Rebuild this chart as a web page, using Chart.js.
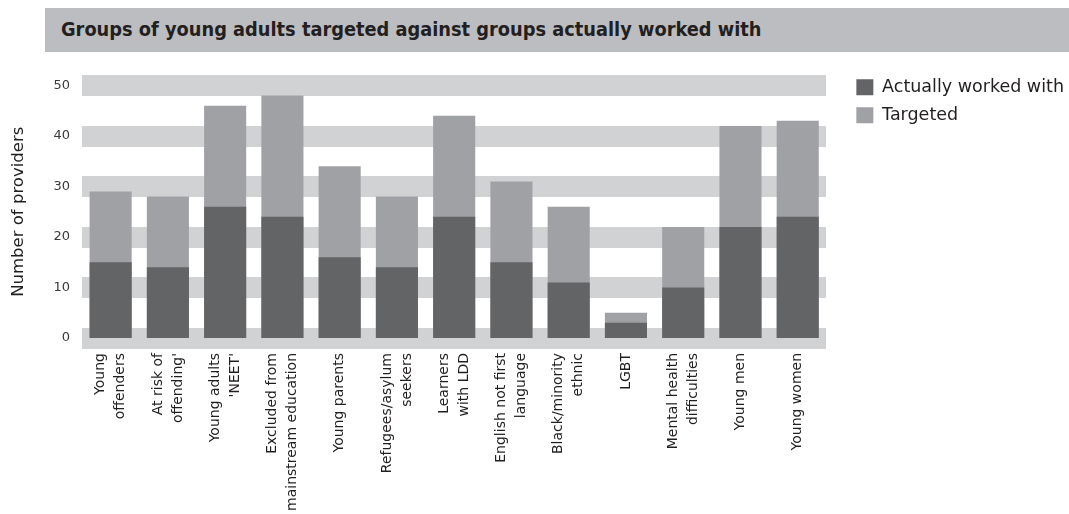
<!DOCTYPE html>
<html>
<head>
<meta charset="utf-8">
<script src="https://cdn.jsdelivr.net/npm/chart.js@4/dist/chart.umd.min.js"></script>
<style>
  html, body { margin: 0; padding: 0; background: #ffffff; }
  #wrap { position: relative; width: 1069px; height: 514px; overflow: hidden; }
  #title {
    position: absolute; left: 45px; top: 8px; width: 1024px; height: 44px;
    background: #bcbdc0; color: #231f20;
    font-family: "DejaVu Sans Condensed", "DejaVu Sans", sans-serif; font-stretch: condensed;
    font-weight: bold; font-size: 19.8px; line-height: 44px;
    padding-left: 16px; box-sizing: border-box; white-space: nowrap;
  }
  canvas { position: absolute; left: 0; top: 0; }
</style>
</head>
<body>
<div id="wrap">
  <canvas id="c" width="1069" height="514"></canvas>
  <div id="title">Groups of young adults targeted against groups actually worked with</div>
</div>
<script>
const categories = [
  ["Young", "offenders"],
  ["At risk of", "offending'"],
  ["Young adults", "'NEET'"],
  ["Excluded from", "mainstream education"],
  "Young parents",
  ["Refugees/asylum", "seekers"],
  ["Learners", "with LDD"],
  ["English not first", "language"],
  ["Black/minority", "ethnic"],
  "LGBT",
  ["Mental health", "difficulties"],
  "Young men",
  "Young women"
];
const actuallyWorkedWith = [15, 14, 26, 24, 16, 14, 24, 15, 11, 3, 10, 22, 24];
const targeted = [29, 28, 46, 48, 34, 28, 44, 31, 26, 5, 22, 42, 43];
const seriesNames = ["Actually worked with", "Targeted"];
const yAxisTitle = "Number of providers";
const yMin = 0, yMax = 50, yStep = 10;

const FONT = "'DejaVu Sans', sans-serif";
const TEXT = "#231f20";
const DARK = "#636466";
const LIGHT = "#a0a1a5";
const BAND = "#d1d2d4";
const LINE_GAP = 20; // spacing between label lines (px)

new Chart(document.getElementById("c"), {
  type: "bar",
  data: {
    labels: categories,
    datasets: [
      { label: seriesNames[0], data: actuallyWorkedWith, backgroundColor: DARK, borderWidth: 0, grouped: false },
      { label: seriesNames[1], data: targeted, backgroundColor: LIGHT, borderWidth: 0, grouped: false }
    ]
  },
  options: {
    responsive: false,
    animation: false,
    events: [],
    barPercentage: 0.735,
    categoryPercentage: 1,
    layout: { padding: { top: 68, right: -5, bottom: 0, left: 0 } },
    plugins: {
      title: { display: false },
      tooltip: { enabled: false },
      legend: {
        position: "right",
        align: "start",
        maxWidth: 240,
        labels: {
          boxWidth: 17, boxHeight: 16, padding: 10.5,
          color: TEXT,
          font: { family: FONT, size: 17.5 }
        }
      }
    },
    scales: {
      x: {
        grid: { display: false, drawTicks: false },
        border: { display: false },
        afterFit: (s) => { s.height = 176; },
        ticks: {
          autoSkip: false,
          minRotation: 90,
          maxRotation: 90,
          padding: 15,
          labelOffset: -LINE_GAP / 2,
          color: TEXT,
          callback: (v, i) => Array.isArray(categories[i]) ? categories[i] : ["", categories[i]],
          font: (ctx) => {
            const single = !Array.isArray(categories[ctx.index]);
            return { family: FONT, size: 14, lineHeight: (single ? LINE_GAP / 2 : LINE_GAP) / 14 };
          }
        }
      },
      y: {
        min: yMin, max: yMax,
        afterFit: (s) => { s.width = 82; },
        grid: { display: false, drawTicks: false },
        border: { display: false },
        ticks: {
          stepSize: yStep,
          padding: 12,
          color: "#3a3a3a",
          font: { family: FONT, size: 13 }
        },
        title: {
          display: true,
          text: yAxisTitle,
          color: TEXT,
          font: { family: FONT, size: 16.5 },
          padding: { top: 9, bottom: 0 }
        }
      },
      // same value range as y: draws the wide grey bands and leaves the gap before the legend
      yBands: {
        type: "linear",
        position: "right",
        min: yMin, max: yMax,
        afterFit: (s) => { s.width = 19.5; },
        grid: { color: BAND, lineWidth: 21, drawTicks: false },
        border: { display: false },
        ticks: { display: false, stepSize: yStep }
      },
      // empty strip that keeps the plot below the legend's first row
      gapTop: {
        type: "linear",
        position: "top",
        afterFit: (s) => { s.height = 17.5; },
        grid: { display: false, drawTicks: false },
        border: { display: false },
        ticks: { display: false }
      }
    }
  }
});
</script>
</body>
</html>
